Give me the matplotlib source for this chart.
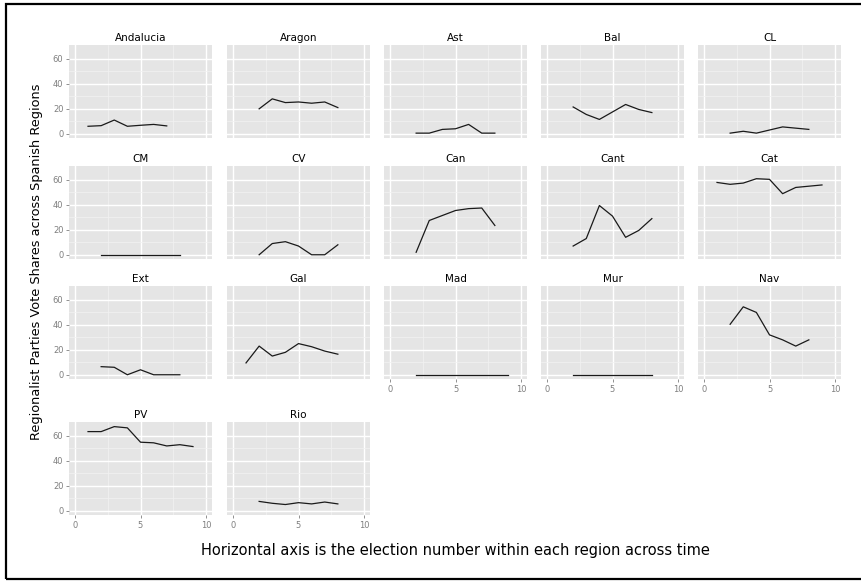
import numpy as np
import matplotlib
matplotlib.use("Agg")
import matplotlib.pyplot as plt
from matplotlib.patches import Rectangle

# regions in facet order and their election series (x = election number)
regions = ["Andalucia", "Aragon", "Ast", "Bal", "CL",
           "CM", "CV", "Can", "Cant", "Cat",
           "Ext", "Gal", "Mad", "Mur", "Nav",
           "PV", "Rio"]

andalucia = [6, 6.5, 11, 6, 6.8, 7.5, 6.3]
aragon = [20, 28, 25, 25.5, 24.5, 25.5, 21]
ast = [0.5, 0.5, 3.5, 4, 7.5, 0.5, 0.5]
bal = [21.5, 15.5, 11.5, 17.5, 23.5, 19.5, 17]
cl = [0.5, 2, 0.5, 3, 5.5, 4.5, 3.5]
cm = [0, 0, 0, 0, 0, 0, 0]
cv = [0, 9, 10.5, 7, 0, 0, 8]
can = [2, 27.5, 31.5, 35.5, 37, 37.5, 23.5]
cant = [7, 13, 39.5, 31, 14, 19.5, 29]
cat = [58, 56.5, 57.5, 61, 60.5, 49, 54, 55, 56]
ext = [6.5, 6, 0, 4, 0, 0, 0]
gal = [9.5, 23, 15, 18, 25, 22.5, 19, 16.5]
mad = [0, 0, 0, 0, 0, 0, 0, 0]
mur = [0, 0, 0, 0, 0, 0, 0]
nav = [40.5, 54.5, 50, 32, 28, 23, 28]
pv = [63.5, 63.5, 67.5, 66.5, 55, 54.5, 52, 53, 51.5]
rio = [7.5, 6, 5, 6.5, 5.5, 7, 5.5]

# first election number of each series
start = [1, 2, 2, 2, 2,
         2, 2, 2, 2, 1,
         2, 1, 2, 2, 2,
         1, 2]

series = [andalucia, aragon, ast, bal, cl, cm, cv, can, cant, cat,
          ext, gal, mad, mur, nav, pv, rio]

W, H = 861, 581
fig = plt.figure(figsize=(W / 100, H / 100), dpi=100)

col_left = [69, 227, 384, 541, 698]
row_top = [45, 166, 286, 422]
pw, ph = 143, 93

bottom_panels = {"Mad", "Mur", "Nav", "PV", "Rio"}

for i, name in enumerate(regions):
    r, c = divmod(i, 5)
    l = col_left[c]
    t = row_top[r]
    ax = fig.add_axes([l / W, 1 - (t + ph) / H, pw / W, ph / H])
    ax.set_facecolor("#E5E5E5")
    for s in ax.spines.values():
        s.set_visible(False)
    ax.set_xlim(-0.45, 10.45)
    ax.set_ylim(-3.4, 71.2)
    ax.set_xticks([0, 5, 10])
    ax.set_yticks([0, 20, 40, 60])
    ax.set_xticks([2.5, 7.5], minor=True)
    ax.set_yticks([10, 30, 50], minor=True)
    ax.grid(True, which="major", color="white", linewidth=1.0)
    ax.grid(True, which="minor", color="#F2F2F2", linewidth=0.5)
    ax.set_axisbelow(True)
    ax.tick_params(which="minor", length=0)
    ax.tick_params(which="major", length=2, width=0.6, color="#7F7F7F",
                   labelsize=6, labelcolor="#7F7F7F", pad=2)
    if c != 0:
        ax.tick_params(axis="y", length=0, labelleft=False)
    if name not in bottom_panels:
        ax.tick_params(axis="x", length=0, labelbottom=False)
    y = series[i]
    x = np.arange(start[i], start[i] + len(y))
    ax.plot(x, y, color="#1a1a1a", linewidth=0.9)
    ax.set_title(name, fontsize=7.5, pad=3)

fig.text(455 / W, 1 - 551 / H,
         "Horizontal axis is the election number within each region across time",
         ha="center", va="center", fontsize=10.5)
fig.text(37 / W, 1 - 262 / H,
         "Regionalist Parties Vote Shares across Spanish Regions",
         ha="center", va="center", rotation=90, fontsize=9.3)

# outer frame
fig.patches.append(Rectangle((6 / W, 1 - 579 / H), 900 / W, 575 / H,
                             transform=fig.transFigure, fill=False,
                             edgecolor="black", linewidth=1.6))

fig.savefig("out.png", dpi=100)
